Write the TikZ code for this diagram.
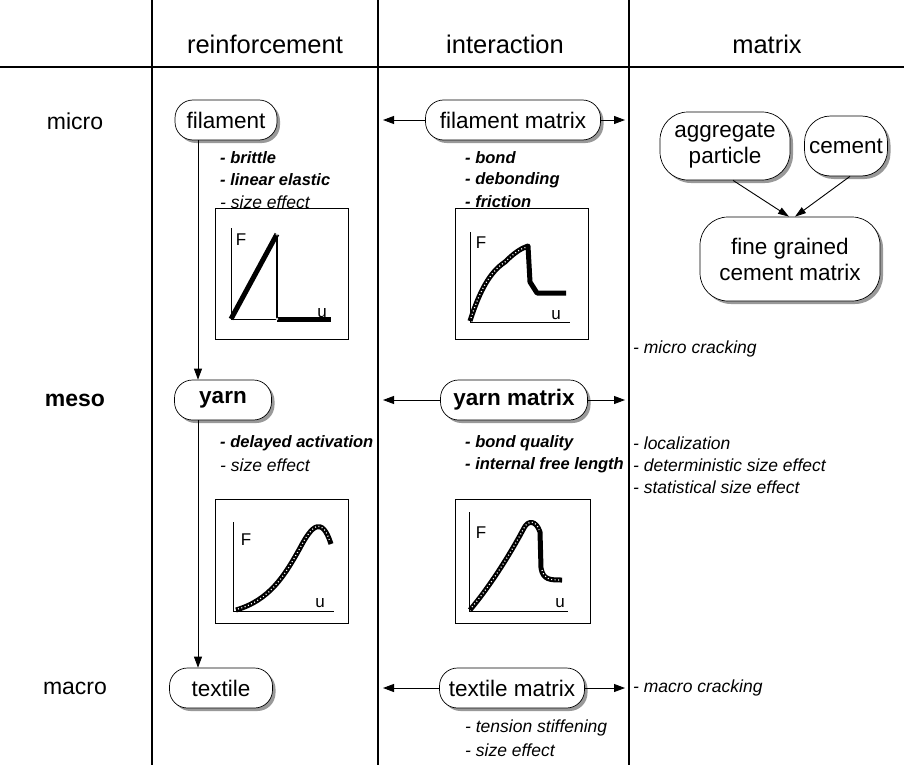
\documentclass[tikz,border=0pt]{standalone}
\usepackage{fontspec}
\setmainfont{Liberation Sans}
\usetikzlibrary{shadows,arrows.meta,calc}
\begin{document}
\begin{tikzpicture}[x=1pt,y=-1pt,
  pill/.style={draw, rounded corners=18pt, fill=white, minimum height=40pt, inner sep=2pt,
    font=\fontsize{22.5}{26}\selectfont, align=center, line width=0.7pt,
    drop shadow={shadow xshift=3pt, shadow yshift=-3pt, fill=black!40, opacity=1}},
  lst/.style={anchor=west, inner sep=0pt, font=\fontsize{17.5}{20}\selectfont\itshape},
  blst/.style={anchor=west, inner sep=0pt, font=\fontsize{16.5}{20}\selectfont\bfseries\itshape},
  head/.style={font=\fontsize{25.5}{30}\selectfont},
  rowlab/.style={font=\fontsize{23}{27}\selectfont},
  arr/.style={line width=0.9pt, -{Triangle[length=11pt,width=8pt]}},
  sarr/.style={line width=0.9pt, -{Triangle[length=11pt,width=7pt]}},
  gbox/.style={draw, line width=0.8pt},
  axis/.style={line width=0.8pt},
  curve/.style={line width=5pt, line join=round},
  speck/.style={white, line width=1.2pt, dash pattern=on 1pt off 2.5pt},
  glab/.style={font=\fontsize{17}{20}\selectfont, inner sep=0pt}
]
\useasboundingbox (0,0) rectangle (904,765);
% grid lines
\draw[line width=1.1pt] (152,0) -- (152,765);
\draw[line width=1.1pt] (378,0) -- (378,765);
\draw[line width=1.1pt] (629,0) -- (629,765);
\draw[line width=1.1pt] (0,67) -- (904,67);
% headers
\node[head] (hr) at (265,44) {reinforcement};
\node[head] (hi) at (505,44) {interaction};
\node[head] (hm) at (767,44) {matrix};
\node[rowlab] (rmicro) at (75,121) {micro};
\node[rowlab, font=\fontsize{23}{27}\selectfont\bfseries] (rmeso) at (75,400) {meso};
\node[rowlab] (rmacro) at (75,688) {macro};

% nodes
\node[pill, minimum width=102pt] (fil) at (226,120) {filament};
\node[pill, minimum width=175pt] (film) at (513,120) {filament matrix};
\node[pill, minimum width=130pt, minimum height=68pt, rounded corners=28pt] (agg) at (725,146) {aggregate\\particle};
\node[pill, minimum width=83pt, minimum height=60pt, rounded corners=26pt] (cem) at (846,146) {cement};
\node[pill, minimum width=180pt, minimum height=84pt, rounded corners=28pt] (fine) at (790,259) {fine grained\\cement matrix};
\node[pill, minimum width=97pt, font=\fontsize{22.5}{26}\selectfont\bfseries] (yarn) at (223,400) {yarn};
\node[pill, minimum width=147pt, font=\fontsize{22.5}{26}\selectfont\bfseries] (yarnm) at (514,400) {yarn matrix};
\node[pill, minimum width=103pt] (tex) at (221,688) {textile};
\node[pill, minimum width=145pt] (texm) at (512,688) {textile matrix};

% connectors
\coordinate (fl) at (383,120); \coordinate (fr) at (625,120);
\coordinate (yl) at (383,400); \coordinate (yr) at (625,400);
\coordinate (tl) at (383,688); \coordinate (tr) at (625,688);
\draw[arr] (film.west) -- (fl);
\draw[arr] (film.east) -- (fr);
\draw[arr] (yarnm.west) -- (yl);
\draw[arr] (yarnm.east) -- (yr);
\draw[arr] (texm.west) -- (tl);
\draw[arr] (texm.east) -- (tr);
\draw[arr] ([xshift=-28]fil.south) -- ([xshift=-28]fil.south |- yarn.north);
\draw[arr] ([xshift=-25]yarn.south) -- ([xshift=-25]yarn.south |- tex.north);
\draw[sarr] ([xshift=8]agg.south) -- ([xshift=-1]fine.north);
\draw[sarr] ([xshift=4]cem.south) -- ([xshift=5]fine.north);

% lists
\node[blst] (l1) at (220,158) {- brittle};
\node[blst] (l2) at (220,180) {- linear elastic};
\node[lst]  (l3) at (220,202) {- size effect};
\node[blst] (i1) at (465,158) {- bond};
\node[blst] (i2) at (465,180) {- debonding};
\node[blst] (i3) at (465,202) {- friction};
\node[lst] (m1) at (633,349) {- micro cracking};
\node[blst] (y1) at (220,443) {- delayed activation};
\node[lst]  (y2) at (220,465) {- size effect};
\node[blst] (ym1) at (465,443) {- bond quality};
\node[blst] (ym2) at (465,465) {- internal free length};
\node[lst] (m2) at (633,443) {- localization};
\node[lst] (m3) at (633,465) {- deterministic size effect};
\node[lst] (m4) at (633,487) {- statistical size effect};
\node[lst] (t1) at (465,728) {- tension stiffening};
\node[lst] (t2) at (465,750) {- size effect};
\node[lst] (m5) at (633,688) {- macro cracking};

% graph 1
\draw[gbox] (215,208) rectangle (348,339);
\draw[axis] (231,228) -- (231,319) -- (331,319);
\draw[curve] (231,319) -- (277,234);
\draw[line width=2.5pt] (277,234) -- (277,319);
\draw[curve] (277,319) -- (331,319);
\draw[white, line width=0.5pt] (277,234) circle (1.3);
\draw[white, line width=0.5pt] (277,319) circle (1);
\node[glab] (f1) at (241,240) {F};
\node[glab] (u1) at (322,313) {u};

% graph 2
\draw[gbox] (455,208) rectangle (588,339);
\draw[axis] (470,232) -- (470,322) -- (570,322);
\draw[curve] (470,321) .. controls (480,290) and (490,272) .. (505,262) .. controls (515,252) and (522,248) .. (528,246) -- (530,282) -- (537,293) -- (566,293);
\draw[speck] (471,318) .. controls (480,290) and (490,272) .. (505,262) .. controls (515,252) and (522,248) .. (527,247);
\node[glab] (f2) at (481,243) {F};
\node[glab] (u2) at (556,315) {u};

% graph 3
\draw[gbox] (215,499) rectangle (348,623);
\draw[axis] (233,522) -- (233,611) -- (334,611);
\draw[curve] (236,610) .. controls (270,600) and (285,575) .. (300,548) .. controls (312,525) and (322,516) .. (331,544);
\draw[speck] (238,609) .. controls (270,600) and (285,575) .. (300,548) .. controls (312,525) and (322,516) .. (330,542);
\node[glab] (f3) at (246,540) {F};
\node[glab] (u3) at (320,603) {u};

% graph 4
\draw[gbox] (455,499) rectangle (590,623);
\draw[axis] (469,512) -- (469,611) -- (568,611);
\draw[curve] (470,610) .. controls (495,580) and (515,545) .. (524,528) .. controls (528,520) and (536,520) .. (540,532) -- (541,568) .. controls (543,580) and (550,580) .. (562,580);
\draw[speck] (472,607) .. controls (495,580) and (515,545) .. (524,528) .. controls (528,520) and (536,520) .. (539,530);
\draw[speck] (542,570) .. controls (544,579) and (550,580) .. (560,580);
\node[glab] (f4) at (481,533) {F};
\node[glab] (u4) at (560,603) {u};
\end{tikzpicture}
\end{document}
